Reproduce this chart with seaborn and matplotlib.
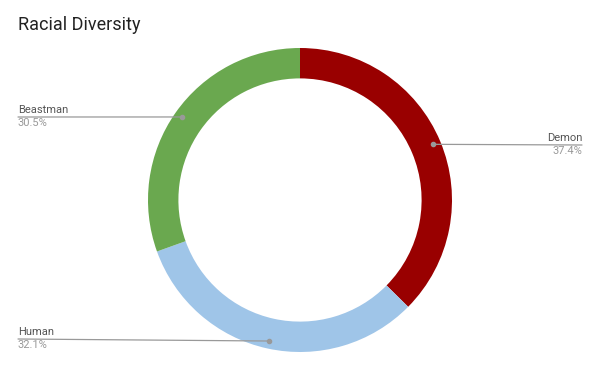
import numpy as np
import matplotlib
matplotlib.use("Agg")
import matplotlib.pyplot as plt
import seaborn as sns

categories = ["Demon", "Human", "Beastman"]
values = [37.4, 32.1, 30.5]
colors = ["#990000", "#9fc5e8", "#6aa84f"]
title = "Racial Diversity"

sns.set_theme(style="white")
plt.rcParams['font.family'] = ['Roboto', 'DejaVu Sans']

fig = plt.figure(figsize=(6, 3.71), dpi=100)
ax = fig.add_axes([148/600, 19/371, 304/600, 304/371])
wedges, _ = ax.pie(values, colors=colors, startangle=90, counterclock=False,
                   radius=1.0, wedgeprops=dict(width=0.2, linewidth=0))
ax.set_xlim(-1, 1)
ax.set_ylim(-1, 1)
ax.set_aspect('equal')
ax.axis('off')

fig.text(18/600, 1 - 25/371, title, fontsize=13, color="#222222", va="center", ha="left")

# label anchor positions in figure pixel coordinates (text placement only)
label_x = {"Demon": (582, "right"), "Human": (18, "left"), "Beastman": (18, "left")}
line_y = {"Demon": 145, "Human": 339, "Beastman": 117}

total = sum(values)
start = 90.0
for cat, val, w in zip(categories, values, wedges):
    ang = start - 360 * val / total / 2
    start -= 360 * val / total
    r = 0.95
    px = r * np.cos(np.radians(ang))
    py = r * np.sin(np.radians(ang))
    disp = ax.transData.transform((px, py))
    fx, fy = disp[0], disp[1]
    lx, ha = label_x[cat]
    ly = 371 - line_y[cat]
    fig.add_artist(plt.Line2D([lx/600, fx/600], [ly/371, fy/371], transform=fig.transFigure,
                              color="#999999", linewidth=0.9))
    fig.add_artist(plt.Line2D([fx/600], [fy/371], transform=fig.transFigure, marker='o',
                              markersize=3, color="#999999", linewidth=0))
    fig.text(lx/600, (ly + 2)/371, cat, fontsize=8, color="#555555", ha=ha, va="bottom")
    fig.text(lx/600, (ly - 1)/371, f"{val}%", fontsize=8, color="#999999", ha=ha, va="top")

fig.savefig("out.png", dpi=100)
